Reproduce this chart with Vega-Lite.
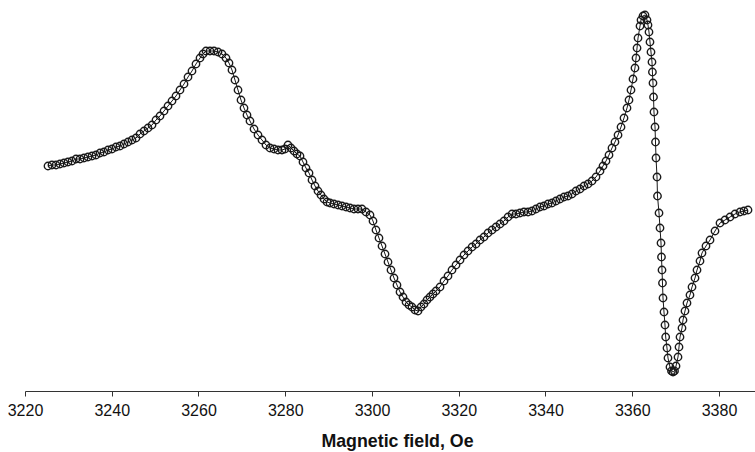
{
  "$schema": "https://vega.github.io/schema/vega-lite/v6.json",
  "autosize": "none",
  "width": 730,
  "height": 391,
  "padding": {"left": 25, "top": 0, "right": 0, "bottom": 61},
  "background": "white",
  "config": {"view": {"stroke": null}, "font": "Liberation Sans"},
  "data": {"values": [
    {"B":3225.30,"S":225},{"B":3226.22,"S":226},{"B":3227.15,"S":226},{"B":3228.07,"S":227},{"B":3228.99,"S":228},
    {"B":3229.91,"S":229},{"B":3230.84,"S":230},{"B":3231.76,"S":232},{"B":3232.68,"S":232},{"B":3233.60,"S":233},
    {"B":3234.52,"S":234},{"B":3235.45,"S":235},{"B":3236.37,"S":236},{"B":3237.29,"S":238},{"B":3238.21,"S":239},
    {"B":3239.14,"S":241},{"B":3240.06,"S":242},{"B":3240.98,"S":244},{"B":3241.90,"S":245},{"B":3242.82,"S":247},
    {"B":3243.75,"S":249},{"B":3244.67,"S":251},{"B":3245.59,"S":253},{"B":3246.51,"S":257},{"B":3247.44,"S":260},
    {"B":3248.36,"S":263},{"B":3249.28,"S":266},{"B":3250.20,"S":271},{"B":3251.12,"S":275},{"B":3252.05,"S":280},
    {"B":3252.97,"S":285},{"B":3253.89,"S":290},{"B":3254.81,"S":295},{"B":3255.73,"S":301},{"B":3256.66,"S":307},
    {"B":3257.58,"S":314},{"B":3258.50,"S":320},{"B":3259.42,"S":327},{"B":3260.35,"S":333},{"B":3261.04,"S":337},
    {"B":3261.73,"S":340},{"B":3262.65,"S":340},{"B":3263.57,"S":340},{"B":3264.50,"S":339},{"B":3265.42,"S":337},
    {"B":3266.34,"S":333},{"B":3267.03,"S":328},{"B":3267.72,"S":321},{"B":3268.41,"S":311},{"B":3269.11,"S":301},
    {"B":3269.80,"S":291},{"B":3270.49,"S":283},{"B":3271.18,"S":276},{"B":3271.87,"S":270},{"B":3272.80,"S":262},
    {"B":3273.72,"S":256},{"B":3274.64,"S":251},{"B":3275.56,"S":246},{"B":3276.48,"S":243},{"B":3277.41,"S":242},
    {"B":3278.33,"S":241},{"B":3279.25,"S":241},{"B":3279.94,"S":242},{"B":3280.63,"S":246},{"B":3281.33,"S":243},
    {"B":3282.02,"S":240},{"B":3282.71,"S":237},{"B":3283.40,"S":235},{"B":3284.09,"S":229},{"B":3284.78,"S":223},
    {"B":3285.48,"S":218},{"B":3286.17,"S":211},{"B":3286.86,"S":205},{"B":3287.55,"S":200},{"B":3288.24,"S":196},
    {"B":3288.93,"S":192},{"B":3289.63,"S":189},{"B":3290.32,"S":188},{"B":3291.24,"S":187},{"B":3292.16,"S":186},
    {"B":3293.08,"S":185},{"B":3294.01,"S":184},{"B":3294.93,"S":183},{"B":3295.85,"S":182},{"B":3296.77,"S":182},
    {"B":3297.69,"S":182},{"B":3298.62,"S":179},{"B":3299.54,"S":176},{"B":3300.23,"S":170},{"B":3300.92,"S":161},
    {"B":3301.61,"S":153},{"B":3302.31,"S":145},{"B":3303.00,"S":137},{"B":3303.69,"S":129},{"B":3304.38,"S":121},
    {"B":3305.07,"S":113},{"B":3305.76,"S":106},{"B":3306.46,"S":99},{"B":3307.15,"S":94},{"B":3307.84,"S":89},
    {"B":3308.53,"S":86},{"B":3309.22,"S":84},{"B":3309.91,"S":81},{"B":3310.61,"S":80},{"B":3311.30,"S":84},
    {"B":3311.99,"S":87},{"B":3312.68,"S":91},{"B":3313.37,"S":94},{"B":3314.06,"S":97},{"B":3314.76,"S":100},
    {"B":3315.68,"S":104},{"B":3316.60,"S":110},{"B":3317.52,"S":115},{"B":3318.44,"S":121},{"B":3319.37,"S":126},
    {"B":3320.29,"S":131},{"B":3321.21,"S":136},{"B":3322.13,"S":140},{"B":3323.06,"S":144},{"B":3323.98,"S":147},
    {"B":3324.90,"S":151},{"B":3325.82,"S":154},{"B":3326.74,"S":158},{"B":3327.67,"S":161},{"B":3328.59,"S":164},
    {"B":3329.51,"S":167},{"B":3330.43,"S":170},{"B":3331.36,"S":174},{"B":3332.28,"S":177},{"B":3333.20,"S":177},
    {"B":3334.12,"S":178},{"B":3335.04,"S":179},{"B":3335.97,"S":179},{"B":3336.89,"S":180},{"B":3337.81,"S":182},
    {"B":3338.73,"S":184},{"B":3339.65,"S":185},{"B":3340.58,"S":187},{"B":3341.50,"S":188},{"B":3342.42,"S":190},
    {"B":3343.34,"S":192},{"B":3344.27,"S":194},{"B":3345.19,"S":195},{"B":3346.11,"S":197},{"B":3347.03,"S":200},
    {"B":3347.95,"S":202},{"B":3348.88,"S":205},{"B":3349.80,"S":207},{"B":3350.72,"S":210},{"B":3351.64,"S":214},
    {"B":3352.57,"S":220},{"B":3353.26,"S":225},{"B":3353.95,"S":230},{"B":3354.64,"S":236},{"B":3355.33,"S":243},
    {"B":3356.02,"S":249},{"B":3356.72,"S":256},{"B":3357.41,"S":264},{"B":3358.10,"S":273},{"B":3358.79,"S":283},
    {"B":3359.25,"S":291},{"B":3359.71,"S":301},{"B":3360.17,"S":312},{"B":3360.63,"S":323},{"B":3360.87,"S":333},
    {"B":3361.10,"S":343},{"B":3361.33,"S":353},{"B":3361.79,"S":365},{"B":3362.02,"S":371},{"B":3362.48,"S":375},
    {"B":3362.94,"S":376},{"B":3363.40,"S":371},{"B":3363.63,"S":366},{"B":3363.86,"S":359},{"B":3364.09,"S":349},
    {"B":3364.32,"S":339},{"B":3364.55,"S":329},{"B":3364.65,"S":319},{"B":3364.78,"S":308},{"B":3364.90,"S":294},
    {"B":3365.01,"S":279},{"B":3365.25,"S":264},{"B":3365.36,"S":249},{"B":3365.48,"S":233},{"B":3365.71,"S":214},
    {"B":3365.82,"S":195},{"B":3366.17,"S":178},{"B":3366.40,"S":163},{"B":3366.63,"S":148},{"B":3366.74,"S":134},
    {"B":3366.86,"S":121},{"B":3366.97,"S":108},{"B":3367.09,"S":93},{"B":3367.32,"S":79},{"B":3367.55,"S":66},
    {"B":3367.71,"S":54},{"B":3368.01,"S":43},{"B":3368.24,"S":33},{"B":3368.70,"S":24},{"B":3369.05,"S":20},
    {"B":3369.40,"S":19},{"B":3369.74,"S":20},{"B":3370.09,"S":25},{"B":3370.55,"S":34},{"B":3370.78,"S":44},
    {"B":3371.01,"S":54},{"B":3371.47,"S":63},{"B":3371.70,"S":71},{"B":3372.16,"S":80},{"B":3372.62,"S":88},
    {"B":3373.31,"S":96},{"B":3373.78,"S":104},{"B":3374.47,"S":113},{"B":3374.93,"S":121},{"B":3375.62,"S":130},
    {"B":3376.08,"S":138},{"B":3377.00,"S":145},{"B":3377.93,"S":151},{"B":3379.08,"S":160},{"B":3380.23,"S":168},
    {"B":3381.38,"S":171},{"B":3382.54,"S":174},{"B":3383.69,"S":177},{"B":3384.84,"S":179},{"B":3385.76,"S":180},
    {"B":3386.69,"S":181}
  ]},
  "encoding": {
    "x": {
      "field": "B", "type": "quantitative",
      "scale": {"domain": [3220, 3388.3], "nice": false, "zero": false},
      "axis": {
        "title": "Magnetic field, Oe",
        "values": [3220, 3240, 3260, 3280, 3300, 3320, 3340, 3360, 3380],
        "format": "d",
        "grid": false,
        "domainColor": "#333333", "domainWidth": 1,
        "tickColor": "#333333", "tickSize": 5,
        "labelFont": "Liberation Sans", "labelFontSize": 16, "labelColor": "#111111",
        "labelPadding": 6, "labelFlush": false,
        "titleFont": "Liberation Sans", "titleFontSize": 17.8, "titleFontWeight": "bold",
        "titleColor": "#111111", "titlePadding": 14, "titleX": 372
      }
    },
    "y": {
      "field": "S", "type": "quantitative",
      "scale": {"domain": [0, 391], "nice": false, "zero": false},
      "axis": null
    }
  },
  "layer": [
    {"mark": {"type": "line", "color": "#1a1a1a", "strokeWidth": 1}},
    {"mark": {"type": "point", "shape": "circle", "filled": false, "stroke": "#1a1a1a", "strokeWidth": 1.4, "size": 55, "opacity": 1}}
  ]
}
